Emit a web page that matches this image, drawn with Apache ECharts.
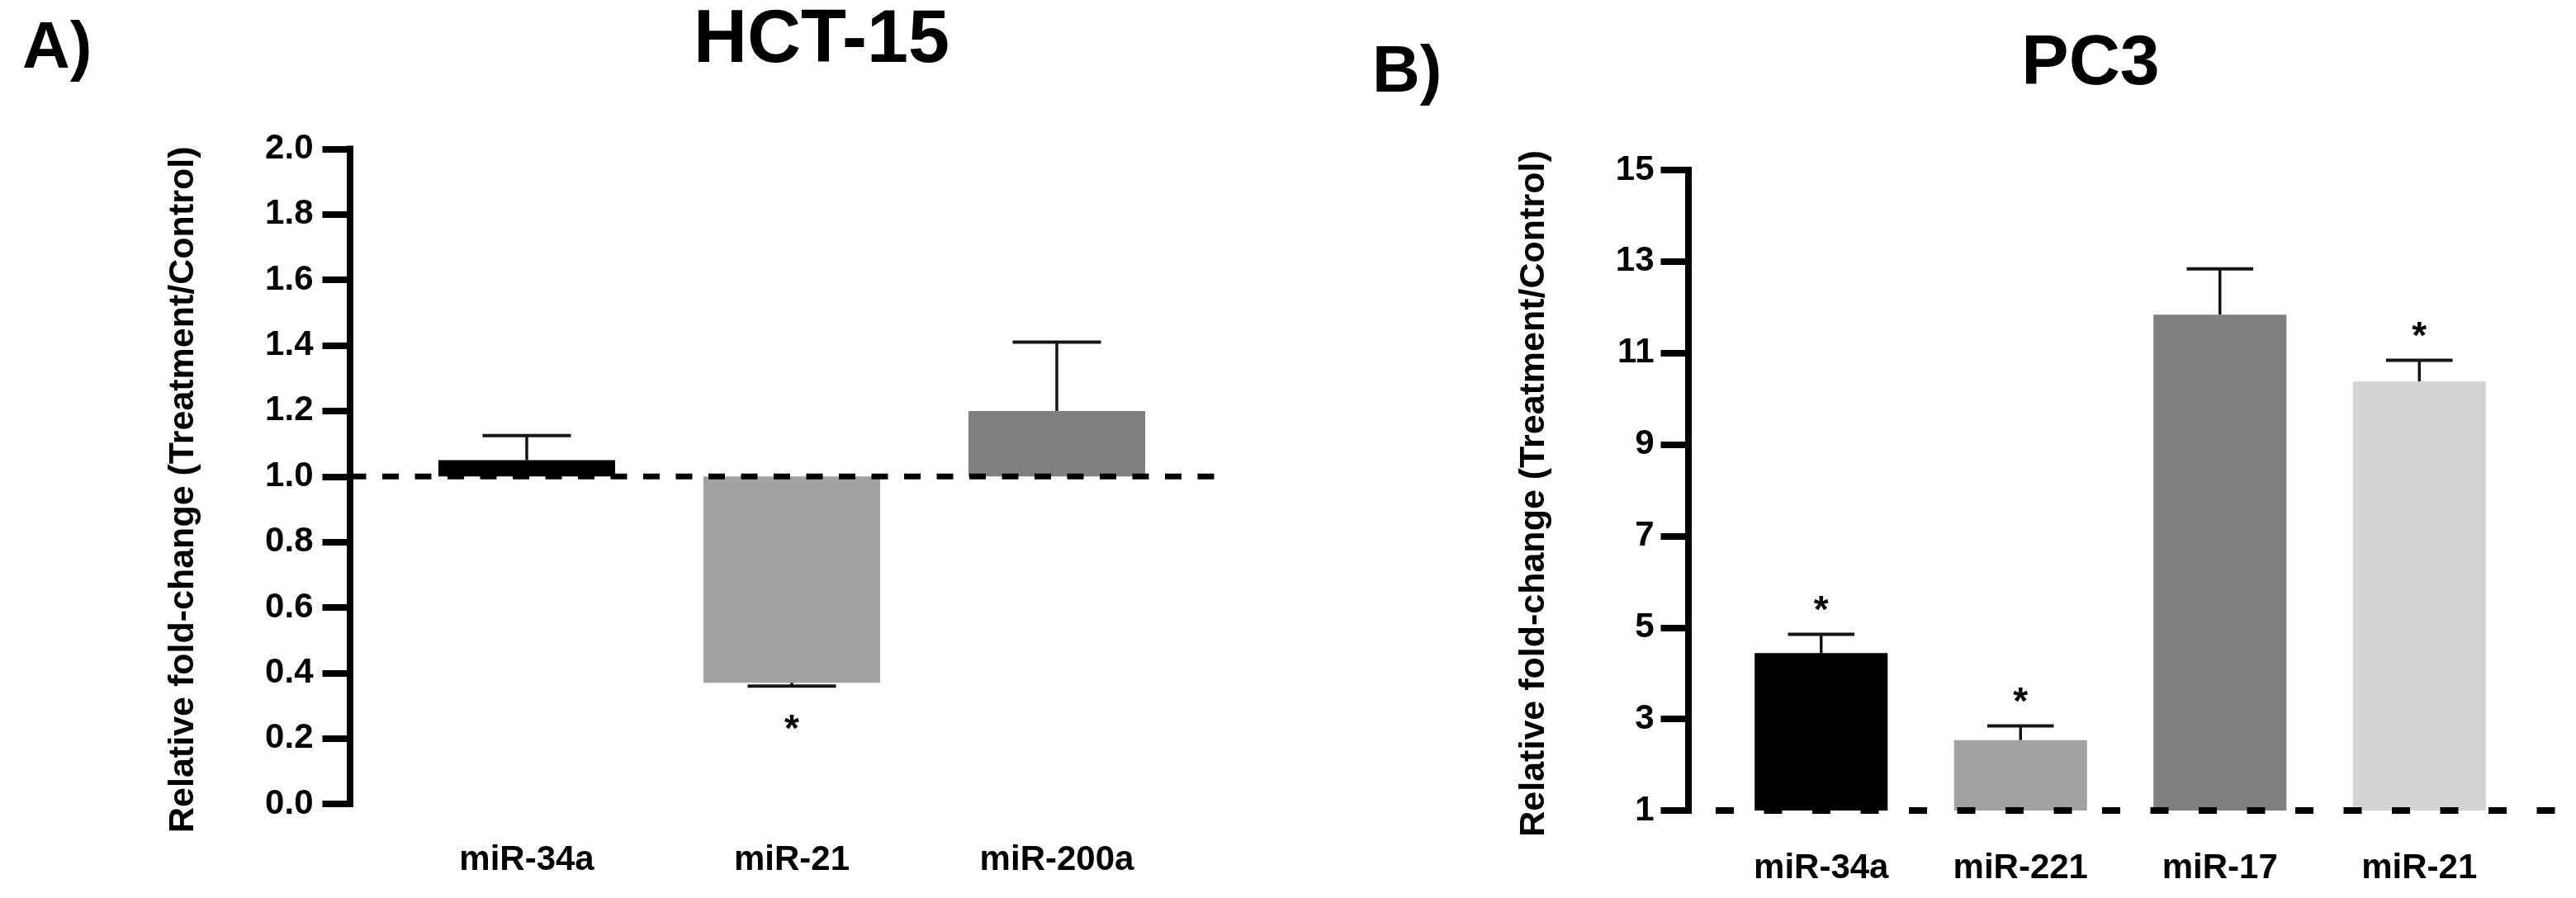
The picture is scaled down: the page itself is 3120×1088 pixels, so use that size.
<!DOCTYPE html>
<html>
<head>
<meta charset="utf-8">
<title>Relative fold-change HCT-15 / PC3</title>
<script src="https://cdn.jsdelivr.net/npm/echarts@6/dist/echarts.min.js"></script>
<style>
    html, body { margin: 0; padding: 0; background: #fff; }
    #main { width: 3120px; height: 1088px; }
</style>
</head>
<body>
<div id="main"></div>
<script>
// A) HCT-15
var hctCategories = ['miR-34a', 'miR-21', 'miR-200a'];
var hctMeans = [1.05, 0.37, 1.20];
var hctErrors = [0.075, 0.01, 0.21];
var hctSignificant = [0, 1, 0];
var hctAxis = { min: 0, max: 2, interval: 0.2 };

// B) PC3
var pc3Categories = ['miR-34a', 'miR-221', 'miR-17', 'miR-21'];
var pc3Means = [4.44, 2.54, 11.84, 10.38];
var pc3Errors = [0.41, 0.31, 1.00, 0.46];
var pc3Significant = [1, 1, 0, 1];
var pc3Axis = { min: 1, max: 15, interval: 2 };

// treatment == control
var baseline = 1;

var FONT = '"Liberation Sans", Arial, sans-serif';
var hctColors = ['#000000', '#a1a1a6', '#808080'];
var pc3Colors = ['#000000', '#a1a1a6', '#808080', '#d4d4d4'];

function rows(means, errors, sig) {
    return means.map(function (m, i) {
        return [i, m, errors[i], sig[i]];
    });
}

// bar from the baseline + one-sided error bar + star
function barRenderer(colors, starUp, starDown) {
    return function (params, api) {
        var i = api.value(0);
        var mean = api.value(1);
        var err = api.value(2);
        var up = mean >= baseline;
        var end = up ? mean + err : mean - err;
        var p0 = api.coord([i, baseline]);
        var p1 = api.coord([i, mean]);
        var p2 = api.coord([i, end]);
        var bw = api.size([1, 0])[0] * 0.667;
        var cap = bw / 2;
        var children = [{
            type: 'rect',
            shape: { x: p1[0] - bw / 2, y: Math.min(p0[1], p1[1]), width: bw, height: Math.abs(p0[1] - p1[1]) },
            style: { fill: colors[i] }
        }, {
            type: 'line',
            shape: { x1: p1[0], y1: p1[1], x2: p2[0], y2: p2[1] },
            style: { stroke: '#151515', lineWidth: 3.5 }
        }, {
            type: 'line',
            shape: { x1: p2[0] - cap / 2, y1: p2[1], x2: p2[0] + cap / 2, y2: p2[1] },
            style: { stroke: '#151515', lineWidth: 4 }
        }];
        if (api.value(3)) {
            children.push({
                type: 'text',
                style: {
                    text: '*', x: p2[0], y: p2[1] + (up ? -starUp : starDown),
                    align: 'center', verticalAlign: 'middle',
                    font: 'bold 46px ' + FONT, fill: '#000'
                }
            });
        }
        return { type: 'group', children: children };
    };
}

function valueAxis(gridIndex, range, offset, margin, name, gap, pad, digits) {
    return {
        type: 'value', gridIndex: gridIndex,
        min: range.min, max: range.max, interval: range.interval,
        offset: offset,
        name: name, nameLocation: 'middle', nameGap: gap,
        nameTextStyle: { fontFamily: FONT, fontWeight: 'bold', fontSize: 43, color: '#000', padding: pad },
        axisLine: { show: true, lineStyle: { color: '#000', width: 8, cap: 'square' } },
        axisTick: { show: true, length: 33, lineStyle: { color: '#000', width: 8 } },
        axisLabel: {
            margin: margin, fontFamily: FONT, fontWeight: 'bold', fontSize: 42, color: '#000',
            formatter: function (v) { return v.toFixed(digits); }
        },
        splitLine: { show: false }
    };
}

function hiddenValueAxis(gridIndex, range) {
    return { type: 'value', gridIndex: gridIndex, min: range.min, max: range.max, show: false, splitLine: { show: false } };
}

function categoryAxis(gridIndex, cats, margin) {
    return {
        type: 'category', gridIndex: gridIndex, data: cats,
        axisLine: { show: false }, axisTick: { show: false },
        axisLabel: { margin: margin, fontFamily: FONT, fontWeight: 'bold', fontSize: 42, color: '#000' }
    };
}

function refLine(xi, yi, dash, width, dashOffset) {
    return {
        type: 'line', xAxisIndex: xi, yAxisIndex: yi, z: 5,
        symbol: 'none', silent: true, animation: false,
        data: [[0, baseline], [1, baseline]],
        lineStyle: { color: '#000', width: width, type: dash, dashOffset: dashOffset }
    };
}

var titleStyle = function (size) {
    return { fontFamily: FONT, fontWeight: 'bold', fontSize: size, color: '#000' };
};

var option = {
    backgroundColor: '#fff',
    animation: false,
    title: [
        { text: 'A)', left: 27, top: 20, padding: 0, textStyle: titleStyle(80) },
        { text: 'HCT-15', left: 995, top: 5, padding: 0, textAlign: 'center', textStyle: titleStyle(90) },
        { text: 'B)', left: 1662, top: 49, padding: 0, textStyle: titleStyle(80) },
        { text: 'PC3', left: 2532, top: 35, padding: 0, textAlign: 'center', textStyle: titleStyle(86) }
    ],
    grid: [
        { left: 477.5, top: 180.5, width: 963, height: 793.5 },
        { left: 423.5, top: 180.5, width: 1061, height: 793.5 },
        { left: 2085, top: 206, width: 966, height: 776 },
        { left: 2044.5, top: 206, width: 1051, height: 776 }
    ],
    xAxis: [
        categoryAxis(0, hctCategories, 47),
        { type: 'value', gridIndex: 1, min: 0, max: 1, show: false },
        categoryAxis(2, pc3Categories, 49),
        { type: 'value', gridIndex: 3, min: 0, max: 1, show: false }
    ],
    yAxis: [
        valueAxis(0, hctAxis, 54, 44, 'Relative fold-change (Treatment/Control)', 180, [0, 32, 0, 0], 1),
        hiddenValueAxis(1, hctAxis),
        valueAxis(2, pc3Axis, 40.5, 41, 'Relative fold-change (Treatment/Control)', 165, [0, 8, 0, 0], 0),
        hiddenValueAxis(3, pc3Axis)
    ],
    series: [{
        type: 'custom', xAxisIndex: 0, yAxisIndex: 0, z: 2,
        renderItem: barRenderer(hctColors, 27, 54),
        encode: { x: 0, y: 1 },
        data: rows(hctMeans, hctErrors, hctSignificant)
    },
    refLine(1, 1, [20, 19.5], 7, 0),
    {
        type: 'custom', xAxisIndex: 2, yAxisIndex: 2, z: 2,
        renderItem: barRenderer(pc3Colors, 27, 54),
        encode: { x: 0, y: 1 },
        data: rows(pc3Means, pc3Errors, pc3Significant)
    },
    refLine(3, 3, [22, 36.5], 8, 25)
    ]
};

var myChart = echarts.init(document.getElementById('main'));
myChart.setOption(option);
</script>
</body>
</html>
